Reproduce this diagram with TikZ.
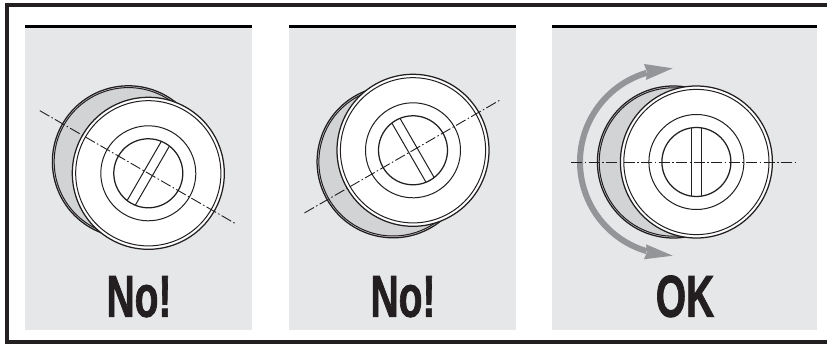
\documentclass[tikz,border=0pt]{standalone}
\usepackage{graphicx}
\usepackage{fontspec}
\setmainfont{Liberation Sans}
\newfontfamily\heavyface[FakeBold=1.6]{Liberation Sans Bold}
\definecolor{framec}{HTML}{231F20}
\definecolor{panelc}{HTML}{E6E7E8}
\definecolor{shadec}{HTML}{D1D3D4}
\definecolor{arrowc}{HTML}{939598}
\tikzset{
  framebar/.style={draw=framec,line width=4.2pt},
  panelbox/.style={fill=panelc,draw=none},
  topbar/.style={draw=black,line width=3pt},
  outline/.style={draw=framec,line width=1.25pt},
  thinline/.style={draw=framec,line width=1pt},
  axisline/.style={draw=framec,line width=0.9pt,dash pattern=on 11pt off 2.5pt on 1.5pt off 2.5pt},
  turnarc/.style={draw=arrowc,line width=6pt},
  turnhead/.style={fill=arrowc,draw=none},
  verdict/.style={inner sep=0pt,anchor=base,text=framec,font=\fontsize{59}{59}\selectfont\heavyface}
}
\newcommand{\drumpic}[3]{%
  \begin{scope}[shift={(#1,#2)},rotate=#3]
    \fill[shadec] (-23,0) circle[radius=76];
    \draw[outline] (-23,0) circle[radius=76];
    \draw[thinline] (-23,0) circle[radius=74.2];
    \draw[outline,fill=white] (0,0) circle[radius=76];
    \draw[thinline] (0,0) circle[radius=72.6];
    \draw[thinline] (0,0) circle[radius=47.5];
    \draw[outline] (0,0) circle[radius=34.5];
    \draw[thinline] (-4.7,-34.2) -- (-4.7,34.2);
    \draw[thinline] (4.7,-34.2) -- (4.7,34.2);
    \coordinate (axisA) at (-125.3,0);
    \coordinate (axisB) at (102,0);
    \draw[axisline] (axisA) -- (axisB);
  \end{scope}}
\begin{document}
\begin{tikzpicture}[x=1pt,y=1pt]
\useasboundingbox (0,0) rectangle (827,345);
\fill[white] (0,0) rectangle (827,345);
% frame
\draw[framebar] (827,339.7) -- (7,339.7) -- (7,3) -- (827,3);
% panels
\fill[panelbox] (25,15) rectangle (252,318);
\fill[panelbox] (289.3,15) rectangle (516,318);
\fill[panelbox] (552.3,15) rectangle (816.7,318);
\draw[topbar] (25,318.3) -- (252,318.3);
\draw[topbar] (289.3,318.3) -- (516,318.3);
\draw[topbar] (552.3,318.3) -- (817,318.3);
% arrows
\draw[turnarc] (673,183) ++(106.5:93) arc[start angle=106.5,end angle=253.5,radius=93];
\fill[turnhead] (672.7,276.7) -- (644,281) -- (647,273) -- (646,265) -- cycle;
\fill[turnhead] (672.7,89.3) -- (644,85.7) -- (647,93) -- (646,100.7) -- cycle;
% drums
\drumpic{148.3}{171.7}{-30}
\drumpic{413}{194.7}{30}
\drumpic{696.4}{183}{0}
% labels
\node[verdict] (noA) at (139,28.3) {\scalebox{0.66}[1]{No!}};
\node[verdict] (noB) at (403,28.3) {\scalebox{0.66}[1]{No!}};
\node[verdict] (okC) at (685,28.3) {\scalebox{0.66}[1]{OK}};
\end{tikzpicture}
\end{document}
